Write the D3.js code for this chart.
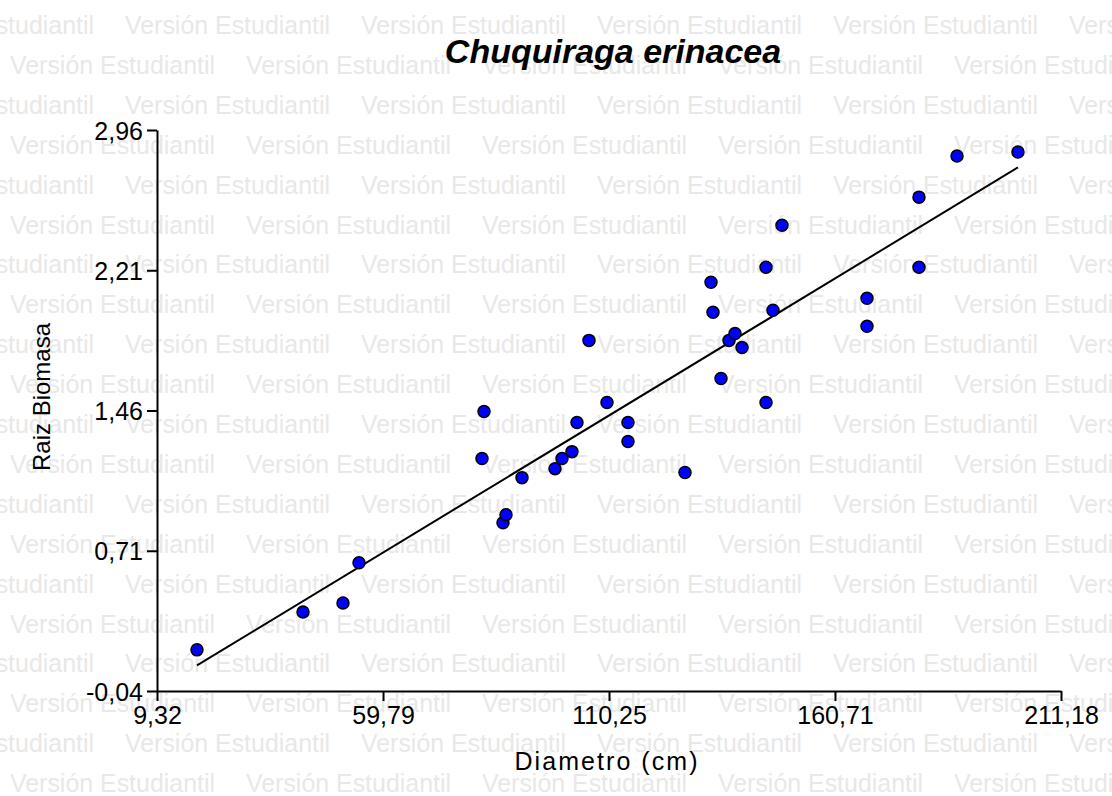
<!DOCTYPE html>
<html>
<head>
<meta charset="utf-8">
<script src="https://cdn.jsdelivr.net/npm/d3@7"></script>
<style>
  html, body { margin: 0; padding: 0; background: #ffffff; }
  svg { display: block; }
</style>
</head>
<body>
<script>
// ---- Data ----
const diametro = [18.25, 41.92, 50.85, 54.43, 82.34, 81.89, 86.58, 87.25, 90.82, 98.19,
  99.75, 101.98, 103.10, 105.78, 109.80, 114.49, 114.49, 127.22, 133.03, 133.47,
  135.26, 137.05, 138.39, 139.95, 145.31, 145.31, 146.87, 148.88, 167.86, 167.86,
  179.47, 179.47, 187.96, 201.57];
const raizBiomasa = [0.180, 0.383, 0.431, 0.646, 1.455, 1.203, 0.860, 0.903, 1.101, 1.149,
  1.203, 1.240, 1.396, 1.835, 1.503, 1.396, 1.294, 1.128, 2.146, 1.985,
  1.631, 1.835, 1.872, 1.797, 2.226, 1.503, 1.996, 2.451, 2.060, 1.910,
  2.601, 2.226, 2.821, 2.842];
const xTicks = [9.32, 59.79, 110.25, 160.71, 211.18];
const yTicks = [-0.04, 0.71, 1.46, 2.21, 2.96];
const titleText = "Chuquiraga erinacea";
const xTitle = "Diametro (cm)";
const yTitle = "Raiz Biomasa";
const watermarkText = "Versión Estudiantil";

const W = 1112, H = 796;
const FONT = "'Liberation Sans', Arial, sans-serif";
const fmt = v => v.toFixed(2).replace(".", ",");

const svg = d3.select("body").append("svg").attr("width", W).attr("height", H);

// ---- Watermark ----
const wm = svg.append("g").attr("fill", "#e8e8e8")
  .style("font-family", FONT).style("font-size", "26px");
for (let k = 0; k < 20; k++) {
  const yy = 34 + 39.9 * k;
  const start = (k % 2 === 0) ? -111 : 10;
  for (let j = 0; j < 6; j++) {
    wm.append("text").attr("x", start + 236 * j).attr("y", yy)
      .attr("textLength", 205).attr("lengthAdjust", "spacingAndGlyphs")
      .text(watermarkText);
  }
}

// ---- Scales ----
const x = d3.scaleLinear().domain([xTicks[0], xTicks[xTicks.length - 1]]).range([157, 1061]);
const y = d3.scaleLinear().domain([yTicks[0], yTicks[yTicks.length - 1]]).range([691, 130]);

// ---- Axes ----
const xAxis = svg.append("g").attr("transform", `translate(0,${y(yTicks[0])})`)
  .call(d3.axisBottom(x).tickValues(xTicks).tickFormat(fmt).tickSizeInner(10).tickSizeOuter(0).tickPadding(5));
const yAxis = svg.append("g").attr("transform", `translate(${x(xTicks[0])},0)`)
  .call(d3.axisLeft(y).tickValues(yTicks).tickFormat(fmt).tickSizeInner(10).tickSizeOuter(0).tickPadding(4));
[xAxis, yAxis].forEach(g => {
  g.select(".domain").attr("stroke", "#000").attr("stroke-width", 2);
  g.selectAll(".tick line").attr("stroke", "#000").attr("stroke-width", 2);
  g.selectAll(".tick text").attr("fill", "#000")
    .style("font-family", FONT).style("font-size", "25px");
});
xAxis.selectAll(".tick text").attr("dy", "0.71em");
yAxis.selectAll(".tick text").attr("dy", "0.36em");

// ---- Regression line (least squares on the data) ----
const mx = d3.mean(diametro), my = d3.mean(raizBiomasa);
let sxy = 0, sxx = 0;
diametro.forEach((v, i) => { sxy += (v - mx) * (raizBiomasa[i] - my); sxx += (v - mx) ** 2; });
const slope = sxy / sxx, intercept = my - slope * mx;
const [xmin, xmax] = d3.extent(diametro);
svg.append("path")
  .datum([xmin, xmax])
  .attr("d", d3.line().x(d => x(d)).y(d => y(intercept + slope * d)))
  .attr("fill", "none").attr("stroke", "#000").attr("stroke-width", 2);

// ---- Points ----
svg.append("g").selectAll("circle")
  .data(diametro.map((d, i) => [d, raizBiomasa[i]]))
  .join("circle")
  .attr("cx", d => x(d[0])).attr("cy", d => y(d[1])).attr("r", 6)
  .attr("fill", "#0000ff").attr("stroke", "#000").attr("stroke-width", 1.5);

// ---- Titles ----
svg.append("text").attr("x", 613).attr("y", 63).attr("text-anchor", "middle")
  .style("font-family", FONT).style("font-size", "34px")
  .style("font-weight", "bold").style("font-style", "italic")
  .text(titleText);
svg.append("text").attr("x", 606).attr("y", 770).attr("text-anchor", "middle")
  .attr("textLength", 183).attr("lengthAdjust", "spacing")
  .style("font-family", FONT).style("font-size", "25px")
  .text(xTitle);
svg.append("text").attr("transform", "translate(50,397) rotate(-90)").attr("text-anchor", "middle")
  .style("font-family", FONT).style("font-size", "24px")
  .text(yTitle);
</script>
</body>
</html>
